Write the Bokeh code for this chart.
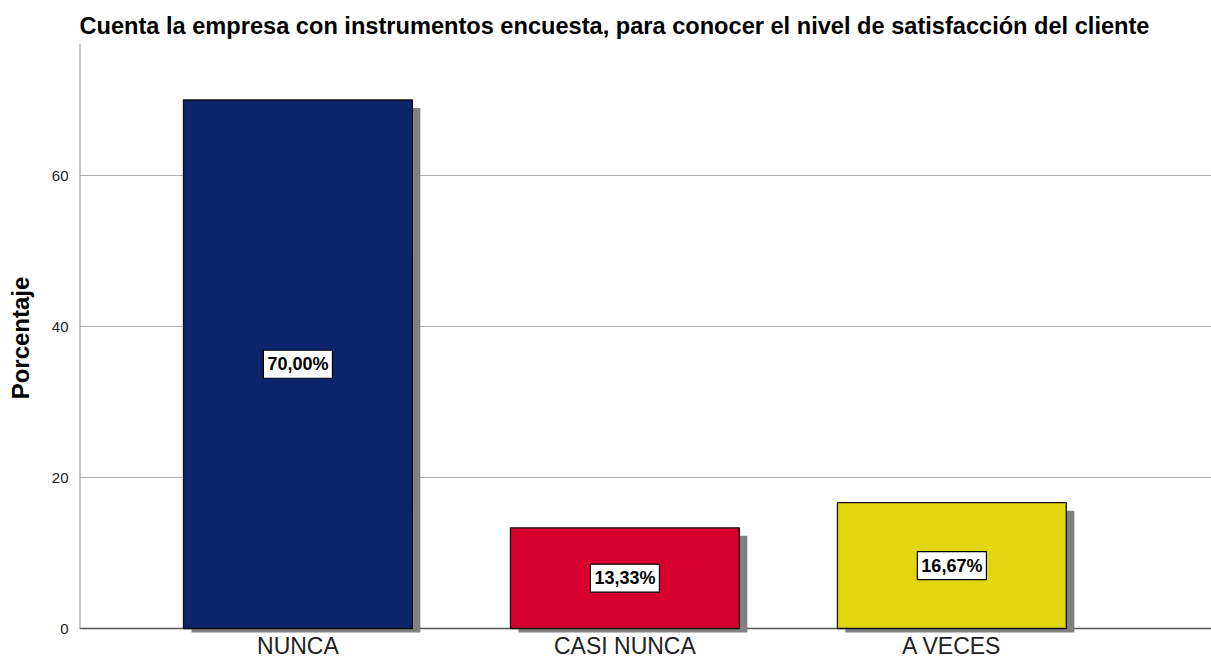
from bokeh.plotting import figure
from bokeh.models import Range1d, FixedTicker, ColumnDataSource, Label, Span
from bokeh.embed import file_html
from bokeh.resources import INLINE

categories = ["NUNCA", "CASI NUNCA", "A VECES"]
values = [70.00, 13.33, 16.67]
colors = ["#0b246c", "#d8002e", "#e2d60f"]
y_ticks = [0, 20, 40, 60]

title = "Cuenta la empresa con instrumentos encuesta, para conocer el nivel de satisfacción del cliente"
y_label = "Porcentaje"

xs = [i + 1 for i in range(len(categories))]
labels = [f"{v:.2f}".replace(".", ",") + "%" for v in values]

W, H = 1211, 661
left, top, bottom = 79, 43, 29
frame_w = W - left
frame_h = H - top - bottom
zero_px = 628          # canvas row of the zero line
ppu_y = 7.55           # pixels per percentage unit
x_start, x_end = 0.332, 3.794
y_end = (zero_px - top) / ppu_y
y_start = -((H - bottom) - zero_px) / ppu_y
px_x = (x_end - x_start) / frame_w
dx = 8 * px_x
dy = 8 / ppu_y
bw = 0.70

p = figure(width=W, height=H, output_backend="svg", toolbar_location=None,
           x_range=Range1d(x_start, x_end), y_range=Range1d(y_start, y_end),
           min_border_left=left, min_border_right=0, min_border_top=top,
           min_border_bottom=bottom, title=title)
p.outline_line_color = None
p.background_fill_color = "white"
p.border_fill_color = "white"

p.title.text_font = "Liberation Sans"
p.title.text_font_size = "23.6px"
p.title.text_font_style = "bold"
p.title.text_color = "black"
p.title.align = "left"
p.title.offset = 0
p.title.standoff = 9

src = ColumnDataSource(dict(
    x=xs, v=values, c=colors,
    l=[x - bw / 2 for x in xs], r=[x + bw / 2 for x in xs],
    sl=[x - bw / 2 + dx for x in xs], sr=[x + bw / 2 + dx for x in xs],
    st=[v - dy for v in values], sb=[-dy] * len(xs), b=[0] * len(xs),
))

base = Span(location=0, dimension="width", line_color="#555555", line_width=1.3, level="underlay")
p.add_layout(base)

p.quad(left="sl", right="sr", top="st", bottom="sb", source=src,
       fill_color="#808080", line_color=None)
p.quad(left="l", right="r", top="v", bottom="b", source=src,
       fill_color="c", line_color="#111111", line_width=1.3)

# left axis line from 0 up
p.segment(x0=[x_start], y0=[0], x1=[x_start], y1=[y_end],
          line_color="#888888", line_width=2)

for x, v, lab in zip(xs, values, labels):
    lb = Label(x=x, y=v / 2, text=lab, text_align="center",
               text_baseline="middle", text_font="Liberation Sans",
               text_font_size="18px", text_font_style="bold", text_color="black",
               background_fill_color="white", border_line_color="black",
               border_line_width=1.2, padding=4)
    p.add_layout(lb)

# axes
p.xaxis.ticker = FixedTicker(ticks=xs)
p.xaxis.major_label_overrides = {x: c for x, c in zip(xs, categories)}
p.xaxis.axis_line_color = None
p.xaxis.major_tick_line_color = None
p.xaxis.minor_tick_line_color = None
p.xaxis.major_tick_out = 0
p.xaxis.major_tick_in = 0
p.xaxis.major_label_text_font = "Liberation Sans"
p.xaxis.major_label_text_font_size = "23px"
p.xaxis.major_label_text_color = "#222222"
p.xaxis.major_label_standoff = 0

p.yaxis.ticker = FixedTicker(ticks=y_ticks)
p.yaxis.axis_line_color = None
p.yaxis.major_tick_line_color = None
p.yaxis.minor_tick_line_color = None
p.yaxis.major_tick_out = 0
p.yaxis.major_tick_in = 0
p.yaxis.major_label_text_font = "Liberation Sans"
p.yaxis.major_label_text_font_size = "15px"
p.yaxis.major_label_text_color = "#222222"
p.yaxis.major_label_standoff = 11
p.yaxis.axis_label = y_label
p.yaxis.axis_label_text_font = "Liberation Sans"
p.yaxis.axis_label_text_font_size = "24px"
p.yaxis.axis_label_text_font_style = "bold"
p.yaxis.axis_label_text_color = "black"
p.yaxis.axis_label_standoff = 15

p.xgrid.grid_line_color = None
p.ygrid.ticker = FixedTicker(ticks=[t for t in y_ticks if t > 0])
p.ygrid.grid_line_color = "#b0b0b0"
p.ygrid.grid_line_width = 1

open("out.html", "w").write(file_html(p, INLINE))
